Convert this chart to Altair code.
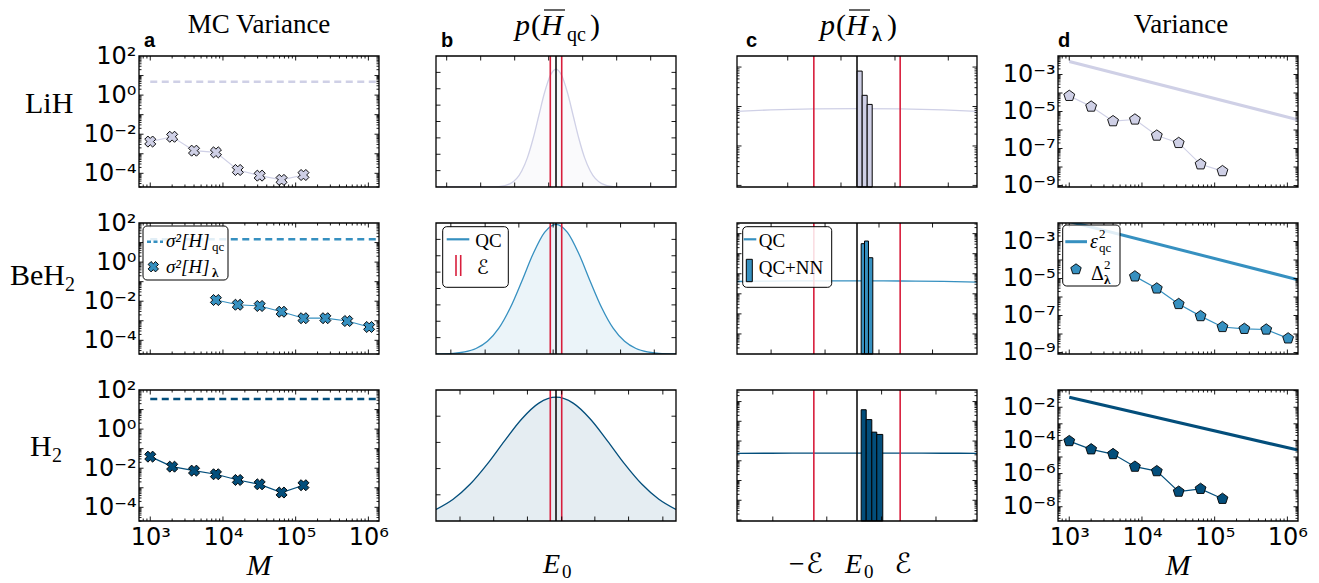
import math
import pandas as pd
import altair as alt

# ------------------------------------------------------------------ values
M_SHORT = [1000, 2000, 4000, 8000, 16000, 32000, 64000, 128000]
M_LONG = [8000, 16000, 32000, 64000, 128000, 256000, 512000, 1024000]

# column a : MC variance
MC_VAR_LIH = [4.2e-3, 7.4e-3, 1.44e-3, 1.18e-3, 1.48e-4, 7.6e-5, 4.6e-5, 8.2e-5]
MC_VAR_BEH2 = [1.15e-2, 6.6e-3, 5.7e-3, 2.9e-3, 1.35e-3, 1.35e-3, 9.7e-4, 4.8e-4]
MC_VAR_H2 = [3.9e-2, 1.2e-2, 7.5e-3, 4.9e-3, 2.5e-3, 1.5e-3, 5.7e-4, 1.35e-3]
QC_VAR = [4.8, 14.7, 34.7]
QC_LINE_M = [1000, 1.4e6]

# column d : variance
DELTA_LIH = [7e-5, 1.85e-5, 3e-6, 3.7e-6, 5e-7, 2e-7, 1.4e-8, 6e-9]
DELTA_BEH2 = [1.3e-5, 2.9e-6, 4.2e-7, 9.3e-8, 2.4e-8, 1.9e-8, 1.75e-8, 5.8e-9]
DELTA_H2 = [9.1e-5, 2.9e-5, 1.5e-5, 2.6e-6, 1.4e-6, 8.1e-8, 1.2e-7, 3e-8]
EPS_M = [1000, 1.4e6]
EPS_LIH = [5e-3, 3.6e-6]
EPS_BEH2 = [1.2e-2, 8.6e-6]
EPS_H2 = [4e-2, 2.6e-5]

# column b : p(H_qc)  (x in units of the accuracy E, E0 = 0)
B_X_LIH = [-21, -15, -12, -10, -8, -6, -5, -4, -3, -2, -1, 0, 1, 2, 3, 4, 5, 6, 8, 10, 12, 15, 21]
B_P_LIH = [0, 0, 0.0003, 0.0035, 0.026, 0.122, 0.224, 0.370, 0.546, 0.721, 0.851, 0.9,
           0.851, 0.721, 0.546, 0.370, 0.224, 0.122, 0.026, 0.0035, 0.0003, 0, 0]
B_X_BEH2 = [-21, -18, -16, -14, -12, -10, -8, -6, -4, -2, 0, 2, 4, 6, 8, 10, 12, 14, 16, 18, 21]
B_P_BEH2 = [0.001, 0.005, 0.016, 0.042, 0.097, 0.197, 0.353, 0.554, 0.765, 0.928, 0.99,
            0.928, 0.765, 0.554, 0.353, 0.197, 0.097, 0.042, 0.016, 0.005, 0.001]
B_X_H2 = [-21, -18, -15, -12, -9, -6, -3, 0, 3, 6, 9, 12, 15, 18, 21]
B_P_H2 = [0.088, 0.166, 0.282, 0.436, 0.612, 0.779, 0.900, 0.945, 0.900, 0.779, 0.612,
          0.436, 0.282, 0.166, 0.088]
B_TICKS = [[-19.13, -13.18, -7.23, -1.28, 4.67, 10.62, 16.57],
           [-18.4, -12.4, -6.5, -0.5, 5.4, 11.3, 17.2],
           [-16.8, -10.9, -5.0, 1.0, 6.8, 12.7, 18.7]]
B_YTICKS = [[0.125, 0.25, 0.375, 0.5, 0.625, 0.75, 0.875],
            [0.125, 0.25, 0.375, 0.5, 0.625, 0.75, 0.875],
            [0.2, 0.4, 0.6, 0.8]]

# column c : p(H_lambda)
C_X = [-2.78, -2, -1, 0, 1, 2, 2.78]
C_P_LIH = [7.55, 8.2, 8.7, 8.85, 8.7, 8.2, 7.55]
C_P_BEH2 = [410, 430, 440, 445, 435, 415, 385]
C_P_H2 = [240, 241, 242, 243, 242, 241, 240]
C_EDGES_LIH = [0.005, 0.12, 0.236, 0.352]
C_H_LIH = [79, 19.2, 11.3]
C_EDGES_BEH2 = [0.097, 0.174, 0.266, 0.366]
C_H_BEH2 = [31600, 42700, 6300]
C_EDGES_H2 = [0.097, 0.213, 0.343, 0.458, 0.597]
C_H_H2 = [38500, 12200, 2820, 2160]
C_TICKS = [[-1.605, -0.371, 0.88, 2.115],
           [-1.99, -0.74, 0.51, 1.75],
           [-1.95, -0.70, 0.57, 1.83]]

# ------------------------------------------------------------------ style / layout
W, H = 240, 131
SERIF = "Liberation Serif"
SCRIPT = "Liberation Serif, DejaVu Serif, DejaVu Sans"
SANS = "DejaVu Sans"
BOLD = "Liberation Sans"
COLORS = ["#cfd0e6", "#3690c0", "#034e7b"]
RED = "#d81e3c"
PENT = "M0,-1L0.951,-0.309L0.588,0.809L-0.588,0.809L-0.951,-0.309Z"

A_XDOM = [700, 1.4e6]
A_YDOM = [10 ** -4.7, 100]
D_YDOM = [[10 ** -9.08, 10 ** -2], [10 ** -9.08, 10 ** -2], [10 ** -8.86, 10 ** -0.96]]
B_XDOM = [-21, 21]
C_XDOM = [-2.78, 2.78]
C_YDOM = [[10 ** -1.04, 10 ** 2.28], [10 ** -1.0, 10 ** 5.53], [10 ** -1.05, 10 ** 5.585]]
C_OX = 4        # frame offset inside the c view
C_VW = 268      # c view width (extra room before column d)

ONE = [{"k": 0}]
SUP = {"-": "\u207b", "0": "\u2070", "1": "\u00b9", "2": "\u00b2", "3": "\u00b3", "4": "\u2074",
       "5": "\u2075", "6": "\u2076", "7": "\u2077", "8": "\u2078", "9": "\u2079"}


def pow_expr(exps):
    expr = "''"
    for e in exps:
        lab = "10" + "".join(SUP[c] for c in str(e))
        expr = f"abs(log(datum.value)/LN10 - ({e})) < 0.01 ? '{lab}' : " + expr
    return expr


def y_axis(exps):
    return alt.Axis(values=[10.0 ** e for e in exps], labelExpr=pow_expr(exps), title=None,
                    domain=False, ticks=False, grid=False, labelFont=SANS, labelFontSize=24,
                    labelColor="black", labelPadding=3, labelOverlap=False, labelFlush=False,
                    labelBaseline="middle")


def x_axis(exps):
    return alt.Axis(values=[10.0 ** e for e in exps], labelExpr=pow_expr(exps), title=None,
                    domain=False, ticks=False, grid=False, labelFont=SANS, labelFontSize=24,
                    labelColor="black", labelPadding=4, labelOverlap=False, labelFlush=False,
                    labelBaseline="top")


def log_ticks(lo, hi):
    major, minor = [], []
    for e in range(math.floor(math.log10(lo)) - 1, math.ceil(math.log10(hi)) + 1):
        for m in range(1, 10):
            v = m * 10.0 ** e
            if lo * 1.0001 <= v <= hi / 1.0001:
                (major if m == 1 else minor).append(v)
    return major, minor


def T(x, y, s, size=20, font=SERIF, style="normal", weight="normal", align="left", color="black"):
    return alt.Chart(alt.Data(values=ONE)).mark_text(
        text=s, font=font, fontSize=size, fontStyle=style, fontWeight=weight, align=align,
        baseline="alphabetic", color=color).encode(x=alt.value(x), y=alt.value(y))


def R(x1, x2, y1, y2, color="black", width=1.0, dash=None):
    kw = dict(color=color, strokeWidth=width)
    if dash:
        kw["strokeDash"] = dash
    return alt.Chart(alt.Data(values=ONE)).mark_rule(**kw).encode(
        x=alt.value(x1), x2=alt.value(x2), y=alt.value(y1), y2=alt.value(y2))


def BOX(x1, x2, y1, y2, fill="white", fop=1.0, stroke="black", sw=1.0, radius=0, opacity=1.0):
    return alt.Chart(alt.Data(values=ONE)).mark_rect(
        fill=fill, fillOpacity=fop, stroke=stroke, strokeWidth=sw, cornerRadius=radius,
        opacity=opacity).encode(x=alt.value(x1), x2=alt.value(x2), y=alt.value(y1), y2=alt.value(y2))


def PT(x, y, shape, color, size=120, angle=0):
    kw = dict(shape=shape, filled=True, fill=color, stroke="black", strokeWidth=0.9, size=size, opacity=1)
    if angle:
        kw["angle"] = angle
    return alt.Chart(alt.Data(values=ONE)).mark_point(**kw).encode(x=alt.value(x), y=alt.value(y))


def frame(x0):
    return BOX(x0, x0 + W, 0, H, fill="white", fop=0, stroke="black", sw=1.3)


def ticks_x(X, major, minor, maj=4.5, mnr=2.5):
    out = []
    for vals, ln in ((major, maj), (minor, mnr)):
        if not vals:
            continue
        base = alt.Chart(pd.DataFrame({"v": vals})).mark_rule(color="black", strokeWidth=0.9)
        out.append(base.encode(x=X("v"), y=alt.value(H), y2=alt.value(H - ln)))
        out.append(base.encode(x=X("v"), y=alt.value(0), y2=alt.value(ln)))
    return out


def ticks_y(Y, major, minor, x0, maj=4.5, mnr=2.5):
    out = []
    for vals, ln in ((major, maj), (minor, mnr)):
        if not vals:
            continue
        base = alt.Chart(pd.DataFrame({"v": vals})).mark_rule(color="black", strokeWidth=0.9)
        out.append(base.encode(y=Y("v"), x=alt.value(x0), x2=alt.value(x0 + ln)))
        out.append(base.encode(y=Y("v"), x=alt.value(x0 + W), x2=alt.value(x0 + W - ln)))
    return out


def row_label(r):
    if r == 0:
        return [T(-114, 57, "LiH", size=30)]
    if r == 1:
        return [T(-129, 62, "BeH", size=30), T(-74, 68, "2", size=20)]
    return [T(-109, 66, "H", size=30), T(-87, 72, "2", size=20)]


# ------------------------------------------------------------------ panels
def panel_a(r):
    col = COLORS[r]
    xs = alt.Scale(type="log", domain=A_XDOM, nice=False)
    ys = alt.Scale(type="log", domain=A_YDOM, nice=False)
    xa = x_axis([3, 4, 5, 6]) if r == 2 else None
    ya = y_axis([-4, -2, 0, 2])
    X = lambda f: alt.X(f, type="quantitative", scale=xs, axis=xa)
    Y = lambda f: alt.Y(f, type="quantitative", scale=ys, axis=ya)
    M = [M_SHORT, M_LONG, M_SHORT][r]
    V = [MC_VAR_LIH, MC_VAR_BEH2, MC_VAR_H2][r]
    qc = pd.DataFrame({"M": QC_LINE_M, "v": [QC_VAR[r]] * 2})
    pts = pd.DataFrame({"M": M, "v": V})
    L = [alt.Chart(qc).mark_line(color=col, strokeWidth=2.6, strokeDash=[7, 4.5], clip=True).encode(x=X("M"), y=Y("v")),
         alt.Chart(pts).mark_line(color=col, strokeWidth=1.2, clip=True).encode(x=X("M"), y=Y("v")),
         alt.Chart(pts).mark_point(shape="cross", angle=45, filled=True, fill=col, stroke="black",
                                   strokeWidth=0.9, size=125, opacity=1).encode(x=X("M"), y=Y("v")),
         frame(0)]
    L += ticks_x(X, *log_ticks(*A_XDOM))
    L += ticks_y(Y, *log_ticks(*A_YDOM), 0)
    L += row_label(r)
    if r == 0:
        L += [BOX(-139, -138, -56, -55, fop=0, stroke="white", sw=0, opacity=0),
              T(120, -23, "MC Variance", size=27, align="center"),
              T(5, -9, "a", size=20, font=BOLD, weight="bold")]
    if r == 1:
        L += [BOX(4, 89, 3, 57, fill="white", fop=0.85, stroke="black", sw=1, radius=4),
              R(8, 24, 18.7, 18.7, color=col, width=2.5, dash=[4, 2.5]),
              T(27, 24, "\u03c3\u00b2[H]", size=19, style="italic"),
              T(73, 28, "qc", size=13),
              PT(14.3, 43.7, "cross", col, size=110, angle=45),
              T(27, 50, "\u03c3\u00b2[H]", size=19, style="italic"),
              T(73, 54, "\u03bb", size=13, weight="bold")]
    if r == 2:
        L += [T(120, 185, "M", size=30, style="italic", align="center")]
    return alt.layer(*L).properties(width=W, height=H)


def panel_b(r):
    col = COLORS[r]
    xs = alt.Scale(domain=B_XDOM, nice=False, zero=False)
    ys = alt.Scale(domain=[0, 1], nice=False, zero=False)
    X = lambda f: alt.X(f, type="quantitative", scale=xs, axis=None)
    Y = lambda f: alt.Y(f, type="quantitative", scale=ys, axis=None)
    bx = [B_X_LIH, B_X_BEH2, B_X_H2][r]
    bp = [B_P_LIH, B_P_BEH2, B_P_H2][r]
    cur = pd.DataFrame({"x": bx, "p": bp})
    red = pd.DataFrame({"x": [-1, 1]})
    e0 = pd.DataFrame({"x": [0]})
    L = [alt.Chart(cur).mark_area(color=col, fillOpacity=0.1, interpolate="monotone", clip=True)
         .encode(x=X("x"), y=Y("p"), y2=alt.value(H)),
         alt.Chart(cur).mark_line(color=col, strokeWidth=1.3, interpolate="monotone", clip=True)
         .encode(x=X("x"), y=Y("p")),
         alt.Chart(e0).mark_rule(color="black", strokeWidth=1.5).encode(x=X("x"), y=alt.value(0), y2=alt.value(H)),
         alt.Chart(red).mark_rule(color=RED, strokeWidth=1.6).encode(x=X("x"), y=alt.value(0), y2=alt.value(H)),
         frame(0)]
    L += ticks_x(X, B_TICKS[r], [])
    L += ticks_y(Y, B_YTICKS[r], [], 0)
    if r == 0:
        L += [T(5, -9, "b", size=20, font=BOLD, weight="bold"),
              T(79, -21, "p", size=30, style="italic"),
              T(95, -21, "(", size=30),
              T(105, -21, "H", size=30, style="italic"),
              R(108, 129, -46, -46, width=1.2),
              T(131, -15, "qc", size=20),
              T(154, -21, ")", size=30)]
    if r == 1:
        L += [BOX(6.7, 72.3, 3.7, 64.3, fill="white", fop=0.85, stroke="black", sw=1, radius=4),
              R(10.7, 33.3, 16.3, 16.3, color=col, width=2.2),
              T(39.3, 23.7, "QC", size=19),
              R(20, 20, 32, 53, color=RED, width=1.6),
              R(24.7, 24.7, 32, 53, color=RED, width=1.6),
              T(40.7, 51, "\u2130", size=20, font=SCRIPT, style="italic")]
    if r == 2:
        L += [T(107, 183, "E", size=28, style="italic"), T(126, 188, "0", size=19)]
    return alt.layer(*L).properties(width=W, height=H)


def panel_c(r):
    col = COLORS[r]
    xs = alt.Scale(domain=C_XDOM, range=[C_OX, C_OX + W], nice=False, zero=False)
    ys = alt.Scale(type="log", domain=C_YDOM[r], nice=False)
    X = lambda f: alt.X(f, type="quantitative", scale=xs, axis=None)
    Y = lambda f: alt.Y(f, type="quantitative", scale=ys, axis=None)
    cp = [C_P_LIH, C_P_BEH2, C_P_H2][r]
    edges = [C_EDGES_LIH, C_EDGES_BEH2, C_EDGES_H2][r]
    hts = [C_H_LIH, C_H_BEH2, C_H_H2][r]
    cur = pd.DataFrame({"x": C_X, "p": cp})
    bars = pd.DataFrame({"x0": edges[:-1], "x1": edges[1:], "h": hts})
    red = pd.DataFrame({"x": [-1, 1]})
    e0 = pd.DataFrame({"x": [0]})
    L = [alt.Chart(cur).mark_area(color=col, fillOpacity=0.1, interpolate="monotone", clip=True)
         .encode(x=X("x"), y=Y("p"), y2=alt.value(H)),
         alt.Chart(cur).mark_line(color=col, strokeWidth=1.3, interpolate="monotone", clip=True)
         .encode(x=X("x"), y=Y("p")),
         alt.Chart(e0).mark_rule(color="black", strokeWidth=1.5).encode(x=X("x"), y=alt.value(0), y2=alt.value(H)),
         alt.Chart(red).mark_rule(color=RED, strokeWidth=1.6).encode(x=X("x"), y=alt.value(0), y2=alt.value(H)),
         alt.Chart(bars).mark_rect(fill=col, stroke="black", strokeWidth=1, opacity=1)
         .encode(x=X("x0"), x2=alt.X2("x1"), y=Y("h"), y2=alt.value(H)),
         frame(C_OX)]
    L += ticks_x(X, C_TICKS[r], [])
    L += ticks_y(Y, *log_ticks(*C_YDOM[r]), C_OX)
    if r == 0:
        L += [T(C_OX + 9, -9, "c", size=20, font=BOLD, weight="bold"),
              T(C_OX + 83, -21, "p", size=30, style="italic"),
              T(C_OX + 99, -21, "(", size=30),
              T(C_OX + 109, -21, "H", size=30, style="italic"),
              R(C_OX + 112, C_OX + 133, -46, -46, width=1.2),
              T(C_OX + 135, -15, "\u03bb", size=20, weight="bold"),
              T(C_OX + 150, -21, ")", size=30)]
    if r == 1:
        L += [BOX(C_OX + 5.7, C_OX + 94.7, 3.7, 64.3, fill="white", fop=0.85, stroke="black", sw=1, radius=4),
              R(C_OX + 6.7, C_OX + 19.3, 16.3, 16.3, color=col, width=2.2),
              T(C_OX + 21.7, 23.7, "QC", size=19),
              BOX(C_OX + 9.3, C_OX + 15.3, 36.3, 58.7, fill=col, fop=1, stroke="black", sw=1),
              T(C_OX + 21.7, 51, "QC+NN", size=19)]
    if r == 2:
        L += [T(72, 183, "\u2212\u2130", size=28, font=SCRIPT, style="italic", align="center"),
              T(112, 183, "E", size=28, style="italic"), T(131, 188, "0", size=19),
              T(170, 183, "\u2130", size=28, font=SCRIPT, style="italic", align="center")]
    return alt.layer(*L).properties(width=C_VW, height=H)


def panel_d(r):
    col = COLORS[r]
    xs = alt.Scale(type="log", domain=A_XDOM, nice=False)
    ys = alt.Scale(type="log", domain=D_YDOM[r], nice=False)
    xa = x_axis([3, 4, 5, 6]) if r == 2 else None
    ya = y_axis([-9, -7, -5, -3] if r < 2 else [-8, -6, -4, -2])
    X = lambda f: alt.X(f, type="quantitative", scale=xs, axis=xa)
    Y = lambda f: alt.Y(f, type="quantitative", scale=ys, axis=ya)
    M = [M_SHORT, M_LONG, M_SHORT][r]
    V = [DELTA_LIH, DELTA_BEH2, DELTA_H2][r]
    E = [EPS_LIH, EPS_BEH2, EPS_H2][r]
    eps = pd.DataFrame({"M": EPS_M, "v": E})
    pts = pd.DataFrame({"M": M, "v": V})
    L = [alt.Chart(eps).mark_line(color=col, strokeWidth=3, clip=True).encode(x=X("M"), y=Y("v")),
         alt.Chart(pts).mark_line(color=col, strokeWidth=1.2, clip=True).encode(x=X("M"), y=Y("v")),
         alt.Chart(pts).mark_point(shape=PENT, filled=True, fill=col, stroke="black", strokeWidth=0.9,
                                   size=130, opacity=1).encode(x=X("M"), y=Y("v")),
         frame(0)]
    L += ticks_x(X, *log_ticks(*A_XDOM))
    L += ticks_y(Y, *log_ticks(*D_YDOM[r]), 0)
    if r == 0:
        L += [T(0, -9, "d", size=20, font=BOLD, weight="bold"),
              T(123, -23, "Variance", size=27, align="center")]
    if r == 1:
        L += [BOX(4.7, 62, 2, 63, fill="white", fop=0.85, stroke="black", sw=1, radius=4),
              R(7.3, 29, 18.7, 18.7, color=col, width=3),
              T(32, 25, "\u03b5", size=20, style="italic"),
              T(41, 15, "2", size=13), T(41, 29, "qc", size=13),
              PT(18, 46.3, PENT, col, size=120),
              T(33, 57, "\u0394", size=20),
              T(46, 46, "2", size=13), T(46, 61, "\u03bb", size=13, weight="bold")]
    if r == 2:
        L += [T(120, 185, "M", size=30, style="italic", align="center")]
    return alt.layer(*L).properties(width=W, height=H)


panels = []
for r in range(3):
    panels += [panel_a(r), panel_b(r), panel_c(r), panel_d(r)]

chart = alt.concat(*panels, columns=4, spacing={"row": 36, "column": 57}, bounds="flush").properties(
    padding=0, background="white"
).configure_view(strokeWidth=0, strokeOpacity=0)

chart.save("out.html", embed_options={"renderer": "svg", "actions": False})
